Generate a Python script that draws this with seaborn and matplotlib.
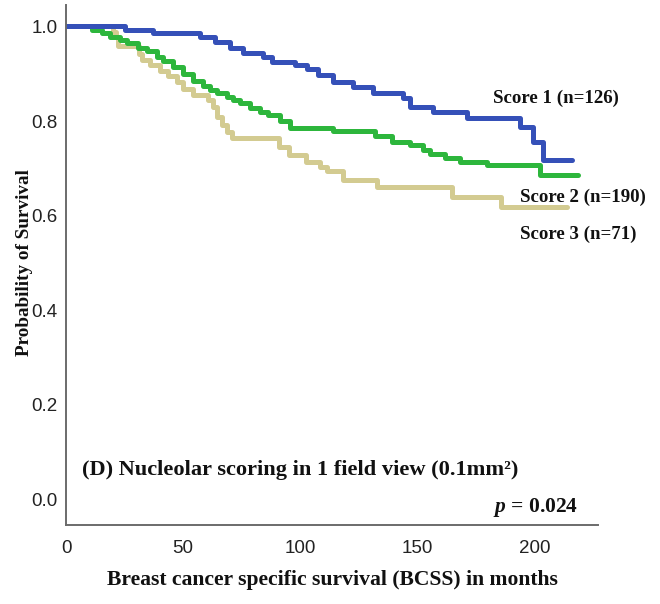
import matplotlib
matplotlib.use("Agg")
import matplotlib.pyplot as plt
import seaborn as sns
import pandas as pd

# Kaplan-Meier step curves: event times (months) and survival probability after each step
score1_time = [0, 25, 37, 57, 63.5, 70, 75.4, 84, 88, 97.6, 103, 107.5, 114, 122.4, 131,
               143.8, 146.8, 156.6, 171, 193.8, 199.4, 203.4, 216]
score1_surv = [1.0, 0.993, 0.986, 0.978, 0.968, 0.955, 0.944, 0.935, 0.925, 0.919, 0.910,
               0.897, 0.883, 0.872, 0.859, 0.849, 0.830, 0.819, 0.806, 0.787, 0.756, 0.717,
               0.717]

score2_time = [0, 11.3, 15.2, 18.6, 22.9, 25.9, 30.6, 34.4, 38.7, 41.2, 45.5, 49.8, 54.1,
               58.3, 61.3, 64.3, 68.6, 71.2, 74.1, 78.4, 82.7, 86.1, 91.2, 95.5, 113.9,
               131.8, 139.1, 146.8, 152.4, 155.3, 161.8, 168.2, 179.7, 202.4, 218.6]
score2_surv = [1.0, 0.993, 0.986, 0.978, 0.971, 0.965, 0.954, 0.948, 0.935, 0.927, 0.914,
               0.899, 0.885, 0.874, 0.865, 0.859, 0.851, 0.844, 0.838, 0.827, 0.819, 0.813,
               0.800, 0.785, 0.779, 0.768, 0.756, 0.749, 0.739, 0.730, 0.722, 0.713, 0.707,
               0.686, 0.686]

score3_time = [0, 19.9, 21.2, 22.0, 31.0, 32.3, 35.7, 40.0, 43.4, 47.2, 49.8, 54.1, 60.5,
               62.6, 64.3, 66.4, 68.6, 70.7, 90.8, 95.1, 102.4, 108.3, 111.3, 118.2, 132.7,
               164.7, 185.7, 213.9]
score3_surv = [1.0, 0.988, 0.978, 0.959, 0.942, 0.929, 0.918, 0.906, 0.895, 0.882, 0.868,
               0.855, 0.844, 0.830, 0.809, 0.791, 0.777, 0.764, 0.745, 0.728, 0.713, 0.703,
               0.694, 0.675, 0.660, 0.639, 0.617, 0.617]

groups = ["Score 1 (n=126)", "Score 2 (n=190)", "Score 3 (n=71)"]
colors = ["#3550b8", "#2db63c", "#d3cb91"]
y_ticks = [0.0, 0.2, 0.4, 0.6, 0.8, 1.0]
x_ticks = [0, 50, 100, 150, 200]

frames = []
for name, t, s in zip(groups, [score1_time, score2_time, score3_time],
                      [score1_surv, score2_surv, score3_surv]):
    frames.append(pd.DataFrame({"time": t, "surv": s, "group": name}))
df = pd.concat(frames, ignore_index=True)

sns.set_style("white")
plt.rcParams["font.family"] = ["Liberation Sans", "DejaVu Sans"]
plt.rcParams["mathtext.fontset"] = "custom"
plt.rcParams["mathtext.it"] = "Liberation Serif:italic:bold"
plt.rcParams["mathtext.rm"] = "Liberation Serif:bold"

fig = plt.figure(figsize=(6.6, 6.04), dpi=100)
ax = fig.add_axes([66 / 660, 79 / 604, 532 / 660, 520 / 604])

sns.lineplot(data=df, x="time", y="surv", hue="group", hue_order=groups[::-1],
             palette=dict(zip(groups, colors)), drawstyle="steps-post",
             estimator=None, sort=False, linewidth=3.6, legend=False, ax=ax)

ax.set_xlim(0, 227)
ax.set_ylim(-0.055, 1.0455)
ax.set_xticks(x_ticks)
ax.set_yticks(y_ticks)
ax.set_xticklabels([f"{v:d}" for v in x_ticks])
ax.set_yticklabels([f"{v:.1f}" for v in y_ticks])

for side in ["top", "right"]:
    ax.spines[side].set_visible(False)
for side in ["left", "bottom"]:
    ax.spines[side].set_color("#6b6b6b")
    ax.spines[side].set_linewidth(1.4)
ax.tick_params(axis="both", direction="out", length=4, width=1.0, color="#6b6b6b",
               labelsize=13.5, labelcolor="#222222", pad=2)
ax.tick_params(axis="x", pad=7)

serif = ["Liberation Serif", "DejaVu Serif"]
ax.set_xlabel("Breast cancer specific survival (BCSS) in months", fontsize=15.6,
              fontweight="bold", family=serif, color="#111111")
ax.xaxis.set_label_coords(0.5, -0.086)
ax.set_ylabel("Probability of Survival", fontsize=13.8, fontweight="bold",
              family=serif, color="#111111")
ax.yaxis.set_label_coords(-0.062, 0.504)

label_pos = [(182.2, 0.849), (193.8, 0.639), (193.8, 0.561)]
for name, (lx, ly) in zip(groups, label_pos):
    ax.text(lx, ly, name, fontsize=13.6, fontweight="bold", family=serif,
            color="#111111", ha="left", va="center")

ax.text(7, 0.061, "(D) Nucleolar scoring in 1 field view (0.1mm\u00b2)", fontsize=16.1,
        fontweight="bold", family=serif, color="#111111", ha="left", va="center")
ax.text(182, -0.017, "$p$ = 0.024", fontsize=15.5, fontweight="bold", family=serif,
        color="#111111", ha="left", va="center")

fig.savefig("out.png", dpi=100)
